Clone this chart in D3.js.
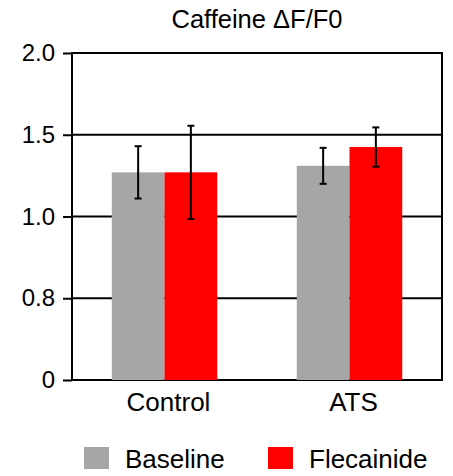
<!DOCTYPE html>
<html>
<head>
<meta charset="utf-8">
<script src="https://cdn.jsdelivr.net/npm/d3@7"></script>
<style>
  html, body { margin: 0; padding: 0; background: #fff; }
  svg { display: block; font-family: "Liberation Sans", Arial, Helvetica, sans-serif; }
</style>
</head>
<body>
<svg id="chart" width="453" height="476"></svg>
<script>
// Groups, series and their means / error half-widths
const categories = ["Control", "ATS"];
const seriesNames = ["Baseline", "Flecainide"];
const baselineMeans = [1.27, 1.31];
const baselineErrors = [0.16, 0.11];
const flecainideMeans = [1.27, 1.425];
const flecainideErrors = [0.285, 0.12];
const tickValues = [0, 0.5, 1.0, 1.5, 2.0];
const tickLabels = ["0", "0.8", "1.0", "1.5", "2.0"];
const titleText = "Caffeine \u0394F/F0";

const colors = { Baseline: "#a6a6a6", Flecainide: "#ff0000" };

const rows = categories.map((c, i) => ({
  category: c,
  values: [
    { series: "Baseline", mean: baselineMeans[i], err: baselineErrors[i] },
    { series: "Flecainide", mean: flecainideMeans[i], err: flecainideErrors[i] }
  ]
}));

const svg = d3.select("#chart");
const plotLeft = 72, plotRight = 442, plotTop = 53, plotBottom = 380;

const y = d3.scaleLinear().domain([0, 2]).range([plotBottom, plotTop]);
const x0 = d3.scaleBand().domain(categories).range([plotLeft, plotRight])
  .paddingInner(0.43).paddingOuter(0.215);
const x1 = d3.scaleBand().domain(seriesNames).range([0, x0.bandwidth()]).padding(0);

// Title
svg.append("text")
  .attr("x", (plotLeft + plotRight) / 2)
  .attr("y", 28)
  .attr("text-anchor", "middle")
  .attr("font-size", 25.5)
  .attr("fill", "#000")
  .text(titleText);

// Horizontal grid lines
svg.append("g").selectAll("line").data(tickValues).join("line")
  .attr("x1", plotLeft).attr("x2", plotRight)
  .attr("y1", d => y(d)).attr("y2", d => y(d))
  .attr("stroke", "#000").attr("stroke-width", 2);

// Bars
const groups = svg.append("g").selectAll("g").data(rows).join("g")
  .attr("transform", d => `translate(${x0(d.category)},0)`);

groups.selectAll("rect").data(d => d.values).join("rect")
  .attr("x", d => x1(d.series))
  .attr("y", d => y(d.mean))
  .attr("width", x1.bandwidth())
  .attr("height", d => y(0) - y(d.mean))
  .attr("fill", d => colors[d.series]);

// Error bars
const eb = groups.selectAll("g.err").data(d => d.values).join("g").attr("class", "err");
eb.append("line")
  .attr("x1", d => x1(d.series) + x1.bandwidth() / 2)
  .attr("x2", d => x1(d.series) + x1.bandwidth() / 2)
  .attr("y1", d => y(d.mean + d.err))
  .attr("y2", d => y(d.mean - d.err))
  .attr("stroke", "#000").attr("stroke-width", 2);
[1, -1].forEach(s => {
  eb.append("line")
    .attr("x1", d => x1(d.series) + x1.bandwidth() / 2 - 3.5)
    .attr("x2", d => x1(d.series) + x1.bandwidth() / 2 + 3.5)
    .attr("y1", d => y(d.mean + s * d.err))
    .attr("y2", d => y(d.mean + s * d.err))
    .attr("stroke", "#000").attr("stroke-width", 2);
});

// Left axis with outward ticks
const yAxis = d3.axisLeft(y).tickValues(tickValues)
  .tickFormat((d, i) => tickLabels[i]).tickSize(9).tickPadding(8);
const ya = svg.append("g").attr("transform", `translate(${plotLeft},0)`).call(yAxis);
ya.select(".domain").remove();
ya.selectAll(".tick line").attr("stroke", "#000").attr("stroke-width", 2);
ya.selectAll(".tick text").attr("font-size", 24).attr("fill", "#000")
  .attr("font-family", "\"Liberation Sans\", Arial, sans-serif");

// Frame: left and right vertical lines
svg.append("line").attr("x1", plotLeft).attr("x2", plotLeft).attr("y1", plotTop - 1).attr("y2", plotBottom + 1)
  .attr("stroke", "#000").attr("stroke-width", 2);
svg.append("line").attr("x1", plotRight).attr("x2", plotRight).attr("y1", plotTop - 1).attr("y2", plotBottom + 1)
  .attr("stroke", "#000").attr("stroke-width", 2);

// Category labels
svg.append("g").selectAll("text").data(categories).join("text")
  .attr("x", d => x0(d) + x0.bandwidth() / 2 + 4)
  .attr("y", 411)
  .attr("text-anchor", "middle")
  .attr("font-size", 26)
  .attr("fill", "#000")
  .text(d => d);

// Legend
const legendX = [84, 268];
const lg = svg.append("g").selectAll("g").data(seriesNames).join("g")
  .attr("transform", (d, i) => `translate(${legendX[i]},446)`);
lg.append("rect").attr("width", 25).attr("height", 22).attr("y", 1)
  .attr("fill", d => colors[d]);
lg.append("text").attr("x", 41).attr("y", 22)
  .attr("font-size", 26).attr("fill", "#000").text(d => d);
</script>
</body>
</html>
